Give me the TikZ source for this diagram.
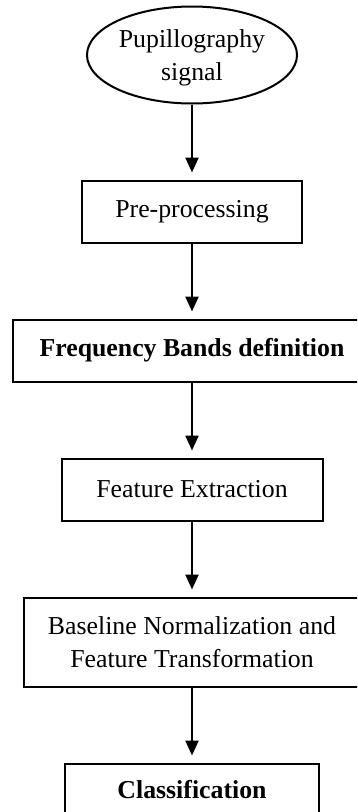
\documentclass[tikz,border=0pt]{standalone}
\usepackage{fontspec}
\setmainfont{Liberation Serif}
\usepackage{tikz}
\usetikzlibrary{shapes,arrows.meta}
\usetikzlibrary{positioning}
\tikzstyle{block} = [draw, rectangle, line width=2pt, inner sep=0pt,
    align=center, minimum height=62pt]
\tikzstyle{signal} = [draw, ellipse, line width=2pt, inner sep=0pt,
    align=center, minimum width=210pt, minimum height=97pt]
\tikzstyle{line} = [draw, ->, line width=2.4pt, shorten >=7pt]

\begin{document}
\begin{tikzpicture}[x=1pt, y=-1pt, node distance=75pt, >={Triangle[width=13pt,length=15pt]},
    every node/.style={font=\fontsize{25.8}{32.5}\selectfont}]
    \useasboundingbox (0,0) rectangle (357,812);
    \clip (0,0) rectangle (357,812);
    % We start by placing the blocks
    \node [signal, text depth=0pt] (signal) at (192,55) {Pupillography\\signal};
    \node [block, below=of signal, minimum width=220pt] (pre) {Pre-processing};
    \node [block, below=of pre, minimum width=358pt] (bands) {\textbf{Frequency Bands definition}};
    \node [block, below=of bands, minimum width=261pt] (feat) {Feature Extraction};
    \node [block, below=of feat, minimum width=336pt, minimum height=89pt] (norm)
        {Baseline Normalization and\\Feature Transformation};
    \node [block, below=of norm, minimum width=254pt, minimum height=80pt,
        text height=17pt, text depth=27pt] (class) {\textbf{Classification}};

    % Once the nodes are placed, connecting them is easy.
    \draw [line] (signal) -- (pre);
    \draw [line] (pre) -- (bands);
    \draw [line] (bands) -- (feat);
    \draw [line] (feat) -- (norm);
    \draw [line] (norm) -- (class);
\end{tikzpicture}
\end{document}
